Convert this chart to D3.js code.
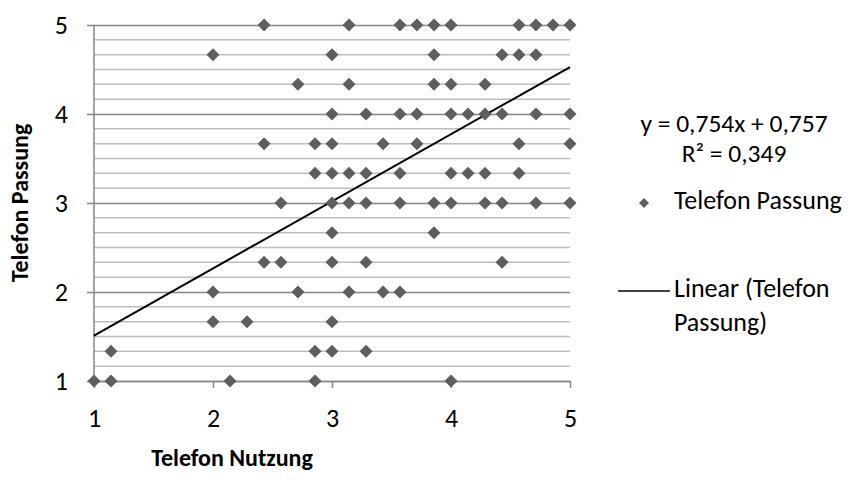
<!DOCTYPE html>
<html>
<head>
<meta charset="utf-8">
<script src="https://cdn.jsdelivr.net/npm/d3@7"></script>
<style>
  html, body { margin: 0; padding: 0; background: #fff; }
  svg { display: block; font-family: Carlito, Calibri, Lato, "Open Sans", sans-serif; }
</style>
</head>
<body>
<svg id="chart" width="854" height="489"></svg>
<script>
// Telefon Nutzung (x) and Telefon Passung (y) per respondent
const nutzung = [
  2.429, 3.143, 3.571, 3.714, 3.857, 4, 4.571, 4.714, 4.857, 5,
  2, 3, 3.857, 4.429, 4.571, 4.714,
  2.714, 3.143, 3.857, 4, 4.286,
  3, 3.286, 3.571, 3.714, 4, 4.143, 4.286, 4.429, 4.714, 5,
  2.429, 2.857, 3, 3.429, 3.714, 4.571, 5,
  2.857, 3, 3.143, 3.286, 3.571, 4, 4.143, 4.286, 4.571,
  2.571, 3, 3.143, 3.286, 3.571, 3.857, 4, 4.286, 4.429, 4.714, 5,
  3, 3.857,
  2.429, 2.571, 3, 3.286, 4.429,
  2, 2.714, 3.143, 3.429, 3.571,
  2, 2.286, 3,
  1.143, 2.857, 3, 3.286,
  1, 1.143, 2.143, 2.857, 4
];
const passung = [
  5, 5, 5, 5, 5, 5, 5, 5, 5, 5,
  4.667, 4.667, 4.667, 4.667, 4.667, 4.667,
  4.333, 4.333, 4.333, 4.333, 4.333,
  4, 4, 4, 4, 4, 4, 4, 4, 4, 4,
  3.667, 3.667, 3.667, 3.667, 3.667, 3.667, 3.667,
  3.333, 3.333, 3.333, 3.333, 3.333, 3.333, 3.333, 3.333, 3.333,
  3, 3, 3, 3, 3, 3, 3, 3, 3, 3, 3,
  2.667, 2.667,
  2.333, 2.333, 2.333, 2.333, 2.333,
  2, 2, 2, 2, 2,
  1.667, 1.667, 1.667,
  1.333, 1.333, 1.333, 1.333,
  1, 1, 1, 1, 1
];
const xTicks = [1, 2, 3, 4, 5];
const yTicks = [1, 2, 3, 4, 5];
const trendSlope = 0.754;
const trendIntercept = 0.757;
const equationLabel = "y = 0,754x + 0,757";
const r2Label = "R² = 0,349";
const seriesName = "Telefon Passung";
const trendName = ["Linear (Telefon", "Passung)"];
const xTitle = "Telefon Nutzung";
const yTitle = "Telefon Passung";

const svg = d3.select("#chart");
const plotLeft = 94, plotRight = 570, plotTop = 25, plotBottom = 381;
const x = d3.scaleLinear().domain([1, 5]).range([plotLeft, plotRight]);
const y = d3.scaleLinear().domain([1, 5]).range([plotBottom, plotTop]);

const majorColor = "#868686", minorColor = "#bdbdbd", markColor = "#5e5e5e";
const fontSize = 26;
const titleSize = 24;

// minor horizontal gridlines every sixth of a unit
const minor = d3.range(1, 25).map(i => 1 + i / 6).filter(v => Math.abs(v - Math.round(v)) > 1e-6);
svg.append("g").selectAll("line").data(minor).join("line")
  .attr("x1", plotLeft).attr("x2", plotRight)
  .attr("y1", d => y(d)).attr("y2", d => y(d))
  .attr("stroke", minorColor).attr("stroke-width", 1.5);

// y axis with major gridlines
const yAxis = svg.append("g").attr("transform", `translate(${plotLeft},0)`)
  .call(d3.axisLeft(y).tickValues(yTicks).tickFormat(d3.format("d"))
    .tickSizeInner(-(plotRight - plotLeft)).tickSizeOuter(0).tickPadding(26));
yAxis.select(".domain").remove();
yAxis.selectAll(".tick line").attr("x1", -7).attr("stroke", majorColor).attr("stroke-width", 1.5);
yAxis.selectAll(".tick text").attr("font-size", fontSize).attr("fill", "#000");
yAxis.attr("font-family", null);
svg.append("line").attr("x1", plotLeft).attr("x2", plotLeft).attr("y1", plotTop).attr("y2", plotBottom)
  .attr("stroke", majorColor).attr("stroke-width", 1.5);

// x axis
const xAxis = svg.append("g").attr("transform", `translate(0,${plotBottom})`)
  .call(d3.axisBottom(x).tickValues(xTicks).tickFormat(d3.format("d"))
    .tickSizeInner(7).tickSizeOuter(0).tickPadding(21));
xAxis.select(".domain").attr("stroke", majorColor).attr("stroke-width", 1.5);
xAxis.selectAll(".tick line").attr("stroke", majorColor).attr("stroke-width", 1.5);
xAxis.selectAll(".tick text").attr("font-size", fontSize).attr("fill", "#000");
xAxis.attr("font-family", null);

// linear trend line
const trend = [1, 5].map(v => [v, trendSlope * v + trendIntercept]);
svg.append("path")
  .attr("d", d3.line().x(d => x(d[0])).y(d => y(d[1]))(trend))
  .attr("stroke", "#000").attr("stroke-width", 2).attr("fill", "none");

// diamond markers
const diamond = r => `M0,${-r}L${r},0L0,${r}L${-r},0Z`;
const pts = nutzung.map((v, i) => [v, passung[i]]);
svg.append("g").selectAll("path").data(pts).join("path")
  .attr("transform", d => `translate(${x(d[0])},${y(d[1])})`)
  .attr("d", diamond(6.5))
  .attr("fill", markColor);

// axis titles
svg.append("text").attr("x", 232).attr("y", 460)
  .attr("text-anchor", "middle").attr("dominant-baseline", "middle")
  .attr("font-size", titleSize).attr("font-weight", "bold").text(xTitle);
svg.append("text").attr("transform", `translate(22,${(plotTop + plotBottom) / 2}) rotate(-90)`)
  .attr("text-anchor", "middle").attr("dominant-baseline", "middle")
  .attr("font-size", titleSize).attr("font-weight", "bold").text(yTitle);

// trendline equation
svg.append("text").attr("x", 734).attr("y", 126).attr("text-anchor", "middle")
  .attr("dominant-baseline", "middle").attr("font-size", 25.5).text(equationLabel);
svg.append("text").attr("x", 734).attr("y", 156).attr("text-anchor", "middle")
  .attr("dominant-baseline", "middle").attr("font-size", 25.5).text(r2Label);

// legend
const lg = svg.append("g");
lg.append("path").attr("transform", "translate(644,203)").attr("d", diamond(5)).attr("fill", markColor);
lg.append("text").attr("x", 674).attr("y", 203).attr("dominant-baseline", "middle")
  .attr("font-size", fontSize).text(seriesName);
lg.append("line").attr("x1", 618).attr("x2", 670).attr("y1", 291).attr("y2", 291)
  .attr("stroke", "#000").attr("stroke-width", 1.5);
lg.selectAll("text.tr").data(trendName).join("text").attr("class", "tr")
  .attr("x", 674).attr("y", (d, i) => 291 + i * 34).attr("dominant-baseline", "middle")
  .attr("font-size", fontSize).text(d => d);
</script>
</body>
</html>
